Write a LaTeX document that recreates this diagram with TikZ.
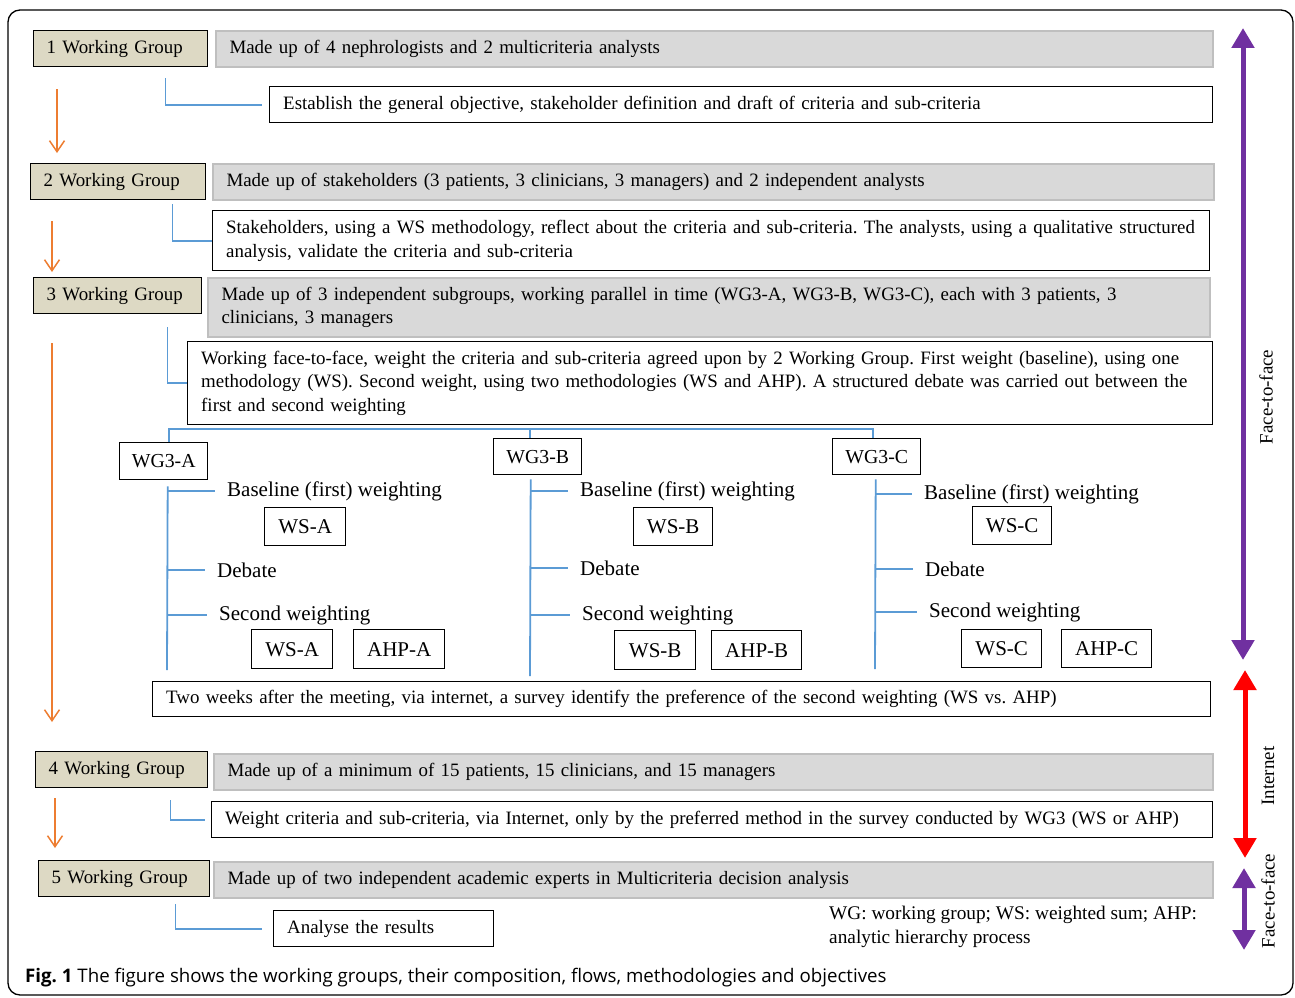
\documentclass[tikz,border=0pt]{standalone}
\usepackage{fontspec}
\setmainfont{Liberation Serif}
\newfontfamily\capfont{Open Sans}
\usetikzlibrary{arrows.meta}
\definecolor{wgfill}{HTML}{DDD9C4}
\definecolor{greyfill}{HTML}{D9D9D9}
\definecolor{greyline}{HTML}{BFBFBF}
\definecolor{linkblue}{HTML}{5B9BD5}
\definecolor{flowor}{HTML}{ED7D31}
\definecolor{ffpurple}{HTML}{7030A0}
\begin{document}
\frenchspacing
\begin{tikzpicture}
  [x=1pt, y=-1pt, font=\fontsize{18.9}{23.5}\selectfont,
   wgbox/.style={draw, line width=1.4pt, fill=wgfill, anchor=north west, align=left, text width=#1-26pt, minimum height=36pt, inner xsep=13pt, inner ysep=0pt},
   greybox/.style 2 args={draw=greyline, line width=2pt, fill=greyfill, anchor=north west, align=left, text width=#1-27pt, minimum height=#2, inner xsep=13.5pt, inner ysep=0pt},
   whitebox/.style 2 args={draw, line width=1.4pt, fill=white, anchor=north west, align=left, text width=#1-27pt, minimum height=#2, inner xsep=13.5pt, inner ysep=0pt},
   smallbox/.style 2 args={draw, line width=1.4pt, anchor=north west, minimum width=#1, minimum height=#2, inner sep=0pt, font=\fontsize{21}{25}\selectfont},
   subgroup/.style={smallbox={88pt}{#1}, font=\fontsize{19.8}{24}\selectfont},
   steplabel/.style={anchor=west, inner sep=0pt, font=\fontsize{21}{25}\selectfont},
   bline/.style={draw=linkblue, line width=1.8pt},
   flow/.style={draw=flowor, line width=1.5pt, -{Straight Barb[length=11pt,width=15pt]}},
   period/.style={line width=5pt, {Triangle[length=20pt,width=22pt]}-{Triangle[length=20pt,width=22pt]}},
   side/.style={rotate=90, inner sep=0pt}]
  \useasboundingbox (0,0) rectangle (1295,998);
  \draw[line width=1.3pt, rounded corners=12pt] (8,10) rectangle (1293,995);

  \node[wgbox=174pt] (wg1) at (33,30) {1 Working Group};
  \node[greybox={997pt}{36pt}] (g1) at (215,30) {Made up of 4 nephrologists and 2 multicriteria analysts};
  \node[whitebox={943pt}{36pt}] (w1) at (269,86) {Establish the general objective, stakeholder definition and draft of criteria and sub-criteria};

  \node[wgbox=175pt] (wg2) at (30,163) {2 Working Group};
  \node[greybox={1001pt}{36pt}] (g2) at (212,163) {Made up of stakeholders (3 patients, 3 clinicians, 3 managers) and 2 independent analysts};
  \node[whitebox={997pt}{60pt}] (w2) at (212,210) {\mbox{Stakeholders, using a WS methodology, reflect about the criteria and sub-criteria. The analysts, using a qualitative structured}\\analysis, validate the criteria and sub-criteria};

  \node[wgbox=168pt] (wg3) at (33,277) {3 Working Group};
  \node[greybox={1002pt}{59pt}] (g3) at (207,277) {Made up of 3 independent subgroups, working parallel in time (WG3-A, WG3-B, WG3-C), each with 3 patients, 3\\clinicians, 3 managers};
  \node[whitebox={1025pt}{83pt}] (w3) at (187,341) {\mbox{Working face-to-face, weight the criteria and sub-criteria agreed upon by 2 Working Group. First weight (baseline), using one}\\\mbox{methodology (WS). Second weight, using two methodologies (WS and AHP). A structured debate was carried out between the}\\first and second weighting};

  \node[subgroup=37pt] (wga) at (119,442) {WG3-A};
  \node[subgroup=36pt] (wgb) at (493,438) {WG3-B};
  \node[subgroup=36pt] (wgc) at (832,438) {WG3-C};

  \node[steplabel] (basa) at (227,491) {Baseline (first) weighting};
  \node[smallbox={81pt}{38pt}] (wsa1) at (264,507) {WS-A};
  \node[steplabel] (deba) at (217,570) {Debate};
  \node[steplabel] (seca) at (219,615) {Second weighting};
  \node[smallbox={81pt}{39pt}] (wsa2) at (251,629) {WS-A};
  \node[smallbox={91pt}{39pt}] (ahpa) at (353,629) {AHP-A};

  \node[steplabel] (basb) at (580,491) {Baseline (first) weighting};
  \node[smallbox={79pt}{38pt}] (wsb1) at (633,507) {WS-B};
  \node[steplabel] (debb) at (580,568) {Debate};
  \node[steplabel] (secb) at (582,615) {Second weighting};
  \node[smallbox={81pt}{39pt}] (wsb2) at (614,630) {WS-B};
  \node[smallbox={90pt}{39pt}] (ahpb) at (711,630) {AHP-B};

  \node[steplabel] (basc) at (924,494) {Baseline (first) weighting};
  \node[smallbox={79pt}{38pt}] (wsc1) at (972,506) {WS-C};
  \node[steplabel] (debc) at (925,569) {Debate};
  \node[steplabel] (secc) at (929,612) {Second weighting};
  \node[smallbox={80pt}{38pt}] (wsc2) at (961,629) {WS-C};
  \node[smallbox={90pt}{38pt}] (ahpc) at (1061,629) {AHP-C};

  \node[whitebox={1058pt}{35pt}] (survey) at (152,681) {Two weeks after the meeting, via internet, a survey identify the preference of the second weighting (WS vs. AHP)};

  \node[wgbox=172pt] (wg4) at (35,751) {4 Working Group};
  \node[greybox={999pt}{36pt}] (g4) at (213,753) {Made up of a minimum of 15 patients, 15 clinicians, and 15 managers};
  \node[whitebox={1001pt}{36pt}] (w4) at (211,801) {Weight criteria and sub-criteria, via Internet, only by the preferred method in the survey conducted by WG3 (WS or AHP)};

  \node[wgbox=171pt] (wg5) at (38,860) {5 Working Group};
  \node[greybox={999pt}{36pt}] (g5) at (213,861) {Made up of two independent academic experts in Multicriteria decision analysis};
  \node[whitebox={220pt}{36pt}] (w5) at (273,910) {Analyse the results};
  \node[anchor=north west, align=left, inner sep=0pt, font=\fontsize{19.3}{24}\selectfont] (note) at (829,906) {WG: working group; WS: weighted sum; AHP:\\analytic hierarchy process};

  \draw[bline] ([shift={(-43pt,-11pt)}]wg1.south east) |- ([xshift=-7pt]w1.west);
  \draw[bline] ([shift={(-34pt,-4pt)}]wg2.south east) |- (w2.west);
  \draw[bline] ([shift={(-35pt,-13pt)}]wg3.south east) |- (w3.west);
  \draw[bline] ([shift={(-38pt,-12pt)}]wg4.south east) |- ([xshift=-6pt]w4.west);
  \draw[bline] ([shift={(-35pt,-7pt)}]wg5.south east) |- ([xshift=-11pt]w5.west);

  \draw[flow] ([shift={(24pt,-22pt)}]wg1.south west) -- ([shift={(27pt,10pt)}]wg2.north west);
  \draw[flow] ([shift={(22pt,-21pt)}]wg2.south west) -- ([shift={(19pt,5pt)}]wg3.north west);
  \draw[flow] ([shift={(19pt,-29pt)}]wg3.south west) -- ([shift={(17pt,29pt)}]wg4.north west);
  \draw[flow] ([shift={(20pt,-10pt)}]wg4.south west) -- ([shift={(17pt,12pt)}]wg5.north west);

  \draw[bline] ([xshift=5pt]wga.north) -- ++(0,-13) -| ([xshift=-4pt]wgc.north);
  \draw[bline] ([xshift=-8pt]wgb.north) -- ++(0,-9);

  \coordinate (enda) at (167,670);
  \coordinate (endb) at (530,676);
  \coordinate (endc) at (875,669);
  \draw[bline] ([shift={(4pt,-6pt)}]wga.south) -- (enda);
  \draw[bline] ([shift={(-7pt,-4pt)}]wgb.south) -- (endb);
  \draw[bline] ([shift={(-1pt,-4pt)}]wgc.south) -- (endc);
  \foreach \lab/\col in {basa/enda, deba/enda, seca/enda, basb/endb, debb/endb, secb/endb, basc/endc, debc/endc, secc/endc}
    \draw[bline] (\col |- \lab.west) -- ([xshift=-12pt]\lab.west);

  \coordinate (fa) at (1243,28);
  \coordinate (fb) at (1243,660);
  \coordinate (ia) at (1245,670);
  \coordinate (ib) at (1245,858);
  \coordinate (fc) at (1244,868);
  \coordinate (fd) at (1244,950);
  \draw[period, ffpurple] (fa) -- (fb);
  \draw[period, red] (ia) -- (ib);
  \draw[period, ffpurple] (fc) -- (fd);
  \node[side] (lface) at (1266,397) {Face-to-face};
  \node[side] (lnet) at (1268,776) {Internet};
  \node[side] (lface2) at (1268,901) {Face-to-face};

  \node[anchor=west, inner sep=0pt, font=\capfont\fontsize{18.7}{21}\selectfont] (cap) at (25,978) {\textbf{Fig. 1} The figure shows the working groups, their composition, flows, methodologies and objectives};
\end{tikzpicture}
\end{document}
